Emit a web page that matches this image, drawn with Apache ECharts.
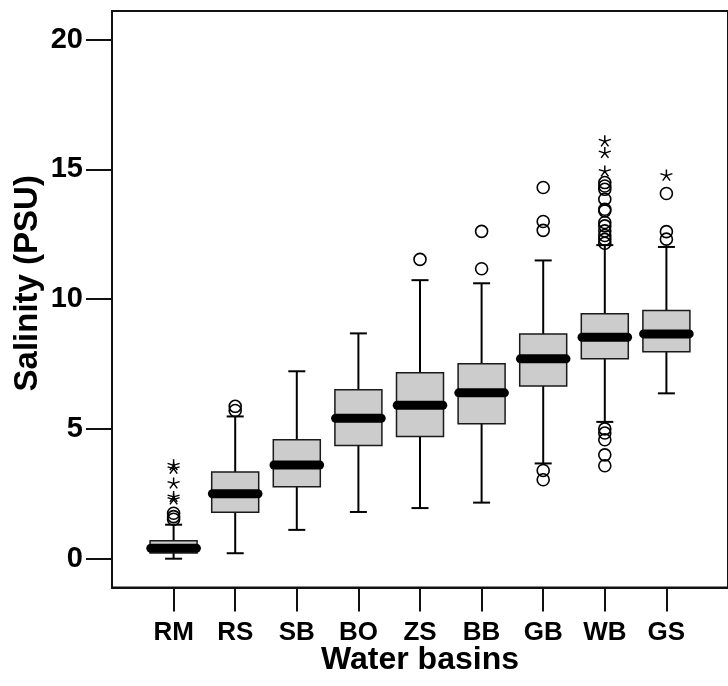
<!DOCTYPE html>
<html>
<head>
<meta charset="utf-8">
<script src="https://cdn.jsdelivr.net/npm/echarts@6/dist/echarts.min.js"></script>
<style>
html,body{margin:0;padding:0;background:#fff;}
#chart{width:728px;height:686px;}
</style>
</head>
<body>
<div id="chart"></div>
<script>
// ---- data ----
const basins = ['RM','RS','SB','BO','ZS','BB','GB','WB','GS'];
const whiskerLow  = [0.00, 0.21, 1.11, 1.80, 1.95, 2.16, 3.67, 5.27, 6.37];
const quartile1   = [0.22, 1.79, 2.77, 4.36, 4.71, 5.20, 6.65, 7.70, 7.97];
const medians     = [0.40, 2.50, 3.61, 5.41, 5.91, 6.39, 7.70, 8.53, 8.66];
const quartile3   = [0.69, 3.34, 4.58, 6.51, 7.16, 7.51, 8.66, 9.44, 9.56];
const whiskerHigh = [1.31, 5.48, 7.22, 8.68, 10.73, 10.61, 11.49, 12.08, 12.01];
// outliers (circles): [basin index, value]
const outlierCircles = [
  [0,1.52],[0,1.62],[0,1.75],
  [1,5.71],[1,5.87],
  [4,11.53],
  [5,11.17],[5,12.61],
  [6,12.65],[6,12.99],[6,14.30],[6,3.40],[6,3.04],
  [7,12.15],[7,12.30],[7,12.45],[7,12.63],[7,12.82],[7,12.95],[7,13.40],[7,13.46],[7,13.85],[7,14.23],[7,14.36],[7,14.49],
  [7,5.00],[7,4.84],[7,4.58],[7,4.00],[7,3.58],
  [8,12.31],[8,12.60],[8,14.07]
];
// extreme values (asterisks): [basin index, value]
const outlierStars = [
  [0,3.62],[0,3.49],[0,2.92],[0,2.40],[0,2.30],
  [7,16.10],[7,15.65],[7,14.94],
  [8,14.78]
];
const yTicks = [0,5,10,15,20];

// ---- chart ----
const chart = echarts.init(document.getElementById('chart'), null, {renderer:'canvas'});
const FONT = "'Liberation Sans', Arial, sans-serif";
const xTicks = basins.map((b,i)=>i+1);
const boxData = basins.map((b,i)=>[i+1, whiskerLow[i], quartile1[i], medians[i], quartile3[i], whiskerHigh[i]]);

const BOX_HALF = 23.5, CAP_HALF = 8.5, MED_HALF = 22.8;

function renderBox(params, api){
  const x = api.value(0);
  const pLow = api.coord([x, api.value(1)]);
  const pQ1 = api.coord([x, api.value(2)]);
  const pMed = api.coord([x, api.value(3)]);
  const pQ3 = api.coord([x, api.value(4)]);
  const pHigh = api.coord([x, api.value(5)]);
  const cx = pMed[0];
  const lineStyle = {stroke:'#000', lineWidth:2};
  return {
    type:'group',
    children:[
      {type:'line', shape:{x1:cx,y1:pLow[1],x2:cx,y2:pHigh[1]}, style:lineStyle},
      {type:'line', shape:{x1:cx-CAP_HALF,y1:pLow[1],x2:cx+CAP_HALF,y2:pLow[1]}, style:lineStyle},
      {type:'line', shape:{x1:cx-CAP_HALF,y1:pHigh[1],x2:cx+CAP_HALF,y2:pHigh[1]}, style:lineStyle},
      {type:'rect', shape:{x:cx-BOX_HALF,y:pQ3[1],width:BOX_HALF*2,height:pQ1[1]-pQ3[1]},
        style:{fill:'#cccccc', stroke:'#1a1a1a', lineWidth:1.5}},
      {type:'line', shape:{x1:cx-MED_HALF,y1:pMed[1],x2:cx+MED_HALF,y2:pMed[1]},
        style:{stroke:'#000', lineWidth:9, lineCap:'round'}}
    ]
  };
}

const starPath = 'path://M0,0L0,-5M0,0L4.76,-1.55M0,0L-4.76,-1.55M0,0L2.94,4.05M0,0L-2.94,4.05';

chart.setOption({
  animation:false,
  backgroundColor:'#fff',
  grid:{left:112, top:11, width:624.5, height:576.5, show:true, borderColor:'#111', borderWidth:2, backgroundColor:'transparent'},
  xAxis:{
    type:'value', min:0, max:10,
    name:'Water basins', nameLocation:'middle', nameGap:57, nameMoveOverlap:false,
    nameTextStyle:{fontFamily:FONT, fontWeight:'bold', fontSize:32, color:'#000'},
    axisLine:{show:true, onZero:false, lineStyle:{color:'#111', width:2}},
    axisTick:{show:true, customValues:xTicks, length:24, lineStyle:{color:'#111', width:2}},
    axisLabel:{show:true, customValues:xTicks, margin:32, fontFamily:FONT, fontWeight:'bold', fontSize:26, color:'#000',
      formatter:(v)=>basins[Math.round(v)-1] || ''},
    splitLine:{show:false}
  },
  yAxis:{
    type:'value', min:-1.11, max:21.10,
    name:'Salinity (PSU)', nameLocation:'middle', nameGap:68, nameMoveOverlap:false,
    nameTextStyle:{fontFamily:FONT, fontWeight:'bold', fontSize:33, color:'#000', padding:[0,0,0,32]},
    axisLine:{show:true, onZero:false, lineStyle:{color:'#111', width:2}},
    axisTick:{show:true, customValues:yTicks, length:26, lineStyle:{color:'#111', width:2}},
    axisLabel:{show:true, customValues:yTicks, margin:29, fontFamily:FONT, fontWeight:'bold', fontSize:29, color:'#000'},
    splitLine:{show:false}
  },
  series:[
    {
      type:'custom', name:'boxes', data:boxData,
      encode:{x:0, y:[1,2,3,4,5]},
      renderItem:renderBox, z:2
    },
    {
      type:'scatter', name:'outliers',
      data:outlierCircles.map(d=>[d[0]+1, d[1]]),
      symbol:'circle', symbolSize:12,
      itemStyle:{color:'rgba(0,0,0,0)', borderColor:'#000', borderWidth:1.6, opacity:1},
      z:3
    },
    {
      type:'scatter', name:'extremes',
      data:outlierStars.map(d=>[d[0]+1, d[1]]),
      symbol:starPath, symbolSize:[12,11],
      itemStyle:{color:'none', borderColor:'#000', borderWidth:1.4, opacity:1},
      z:3
    }
  ]
});
</script>
</body>
</html>
